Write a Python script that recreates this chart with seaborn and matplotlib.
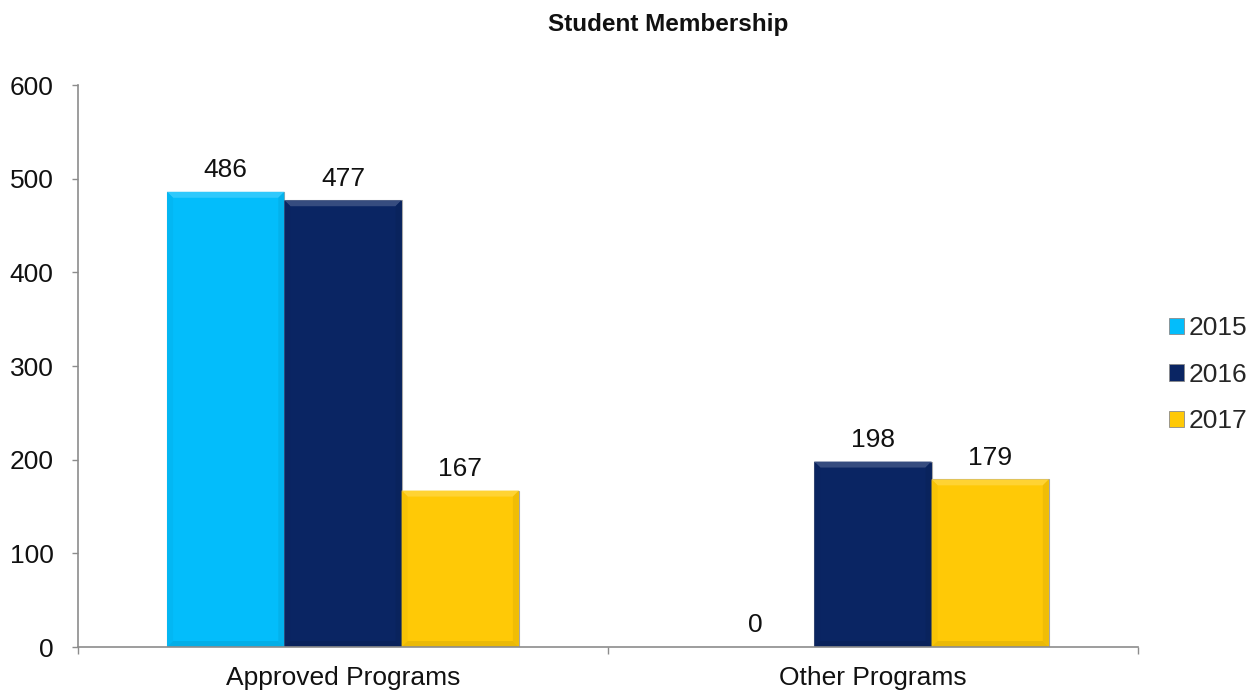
import matplotlib
matplotlib.use("Agg")
import matplotlib.pyplot as plt
from matplotlib.patches import Patch, Polygon
from matplotlib.ticker import FixedLocator
import matplotlib.colors as mcolors
import numpy as np
import seaborn as sns
import pandas as pd

categories = ["Approved Programs", "Other Programs"]
years = ["2015", "2016", "2017"]
values_2015 = [486, 0]
values_2016 = [477, 198]
values_2017 = [167, 179]
colors = ["#03BDFB", "#0A2563", "#FFC906"]

df = pd.DataFrame({
    "Program": categories * 3,
    "Year": [y for y in years for _ in categories],
    "Members": values_2015 + values_2016 + values_2017,
})

sns.set_theme(style="white")
plt.rcParams["font.family"] = ["Liberation Sans", "DejaVu Sans"]

FS = 19

fig = plt.figure(figsize=(12.58, 6.94), dpi=100)
ax = fig.add_axes([0.062, 0.0677, 0.8425, 0.8098])

sns.barplot(data=df, x="Program", y="Members", hue="Year", order=categories,
            hue_order=years, palette=colors, width=0.664, dodge=True,
            edgecolor="#a8a8a8", linewidth=0.8, saturation=1, legend=False, ax=ax)

ax.set_ylim(0, 600)
ax.set_xlim(-0.5, 1.5)


def shade(color, amount):
    rgb = np.array(mcolors.to_rgb(color))
    if amount >= 0:
        return tuple(rgb + (1 - rgb) * amount)
    return tuple(rgb * (1 + amount))


# soft bevel around each bar: lighter top rim, slightly darker sides and base
bbox = ax.get_window_extent()
px_x = (ax.get_xlim()[1] - ax.get_xlim()[0]) / bbox.width
px_y = (ax.get_ylim()[1] - ax.get_ylim()[0]) / bbox.height
bev = 6
for cont in ax.containers:
    for rect in cont.patches:
        h = rect.get_height()
        if h <= 0:
            continue
        x0, w = rect.get_x(), rect.get_width()
        x1, y1 = x0 + w, h
        bx, by = bev * px_x, bev * px_y
        base = rect.get_facecolor()
        faces = [
            ([(x0, y1), (x1, y1), (x1 - bx, y1 - by), (x0 + bx, y1 - by)], shade(base, 0.18)),
            ([(x0, 0), (x0, y1), (x0 + bx, y1 - by), (x0 + bx, by)], shade(base, -0.03)),
            ([(x1, 0), (x1, y1), (x1 - bx, y1 - by), (x1 - bx, by)], shade(base, -0.06)),
            ([(x0, 0), (x1, 0), (x1 - bx, by), (x0 + bx, by)], shade(base, -0.08)),
        ]
        for pts, col in faces:
            ax.add_patch(Polygon(pts, closed=True, facecolor=col, edgecolor="none",
                                 zorder=rect.get_zorder() + 0.1))

for cont in ax.containers:
    ax.bar_label(cont, labels=[f"{int(v)}" for v in cont.datavalues],
                 padding=7, fontsize=FS, color="#111111")

ax.set_yticks(range(0, 601, 100))
ax.tick_params(axis="y", labelsize=FS, length=4.5, width=1, color="#8c8c8c",
               direction="out", left=True, pad=13, labelcolor="#111111")
ax.xaxis.set_minor_locator(FixedLocator([-0.5, 0.5, 1.5]))
ax.tick_params(axis="x", which="major", length=0, labelsize=FS, pad=14,
               labelcolor="#111111")
ax.tick_params(axis="x", which="minor", length=5, width=1, color="#8c8c8c",
               direction="out", bottom=True)
ax.set_xlabel("")
ax.set_ylabel("")

for side in ["top", "right"]:
    ax.spines[side].set_visible(False)
for side in ["left", "bottom"]:
    ax.spines[side].set_color("#8c8c8c")
    ax.spines[side].set_linewidth(1.2)

fig.text(0.531, 0.965, "Student Membership", ha="center", va="center",
         fontsize=17.5, fontweight="bold", color="#111111")

handles = [Patch(facecolor=c, edgecolor="#8a8a8a", linewidth=0.6, label=y)
           for c, y in zip(colors, years)]
fig.legend(handles=handles, loc="center left", bbox_to_anchor=(0.910, 0.46),
           frameon=False, fontsize=FS, handlelength=0.57, handleheight=0.57,
           handletextpad=0.2, labelspacing=0.85)

fig.savefig("out.png", dpi=100)
